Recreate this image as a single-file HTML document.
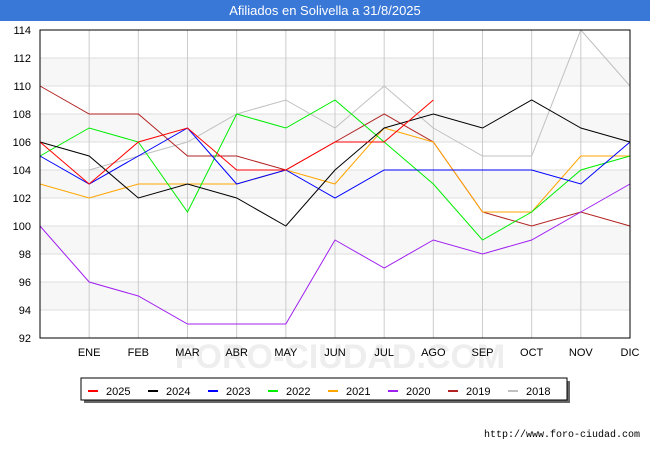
<!DOCTYPE html>
<html><head><meta charset="utf-8"><style>
body{margin:0;background:#fff;font-family:"Liberation Sans",sans-serif}
#t{position:absolute;left:0;top:0;width:650px;height:21px;background:#3a78d8;color:#fff;font-size:13px;text-align:center;line-height:21px}
</style></head><body>
<div id="t">Afiliados en Solivella a 31/8/2025</div>
<svg id="c" width="650" height="450" style="position:absolute;left:0;top:0"></svg>
<script>
const months=["","ENE","FEB","MAR","ABR","MAY","JUN","JUL","AGO","SEP","OCT","NOV","DIC"];
const yTicks=[92,94,96,98,100,102,104,106,108,110,112,114];
const years=["2025","2024","2023","2022","2021","2020","2019","2018"];
const colors=["#ff0000","#000000","#0000ff","#00ee00","#ffa500","#a020f0","#b22222","#c0c0c0"];
const s2025=[106,103,106,107,104,104,106,106,109];
const s2024=[106,105,102,103,102,100,104,107,108,107,109,107,106];
const s2023=[105,103,105,107,103,104,102,104,104,104,104,103,106];
const s2022=[105,107,106,101,108,107,109,106,103,99,101,104,105];
const s2021=[103,102,103,103,103,104,103,107,106,101,101,105,105];
const s2020=[100,96,95,93,93,93,99,97,99,98,99,101,103];
const s2019=[110,108,108,105,105,104,106,108,106,101,100,101,100];
const s2018=[null,104,105,106,108,109,107,110,107,105,105,114,110];
const series=[s2025,s2024,s2023,s2022,s2021,s2020,s2019,s2018];
const X0=40,X1=630,Y0=338,Y1=30;
const x=i=>X0+i*(X1-X0)/12;
const y=v=>Y0-(v-92)*(Y0-Y1)/22;
const svg=document.getElementById('c');const NS="http://www.w3.org/2000/svg";
function mk(t,a,txt){const e=document.createElementNS(NS,t);for(const k in a)e.setAttribute(k,a[k]);if(txt!=null)e.textContent=txt;svg.appendChild(e);return e;}
for(let i=0;i<yTicks.length-1;i++){if(i%2==1){const r=mk('rect',{x:X0,y:y(yTicks[i+1]),width:X1-X0,height:y(yTicks[i])-y(yTicks[i+1]),fill:'#f7f7f7'});

}}
mk('text',{x:340,y:368,'font-size':34,fill:'#eeeeee','text-anchor':'middle','font-weight':'bold'},'FORO-CIUDAD.COM');
yTicks.forEach(v=>{const l=mk('line',{x1:X0,x2:X1,y1:y(v),y2:y(v),stroke:'#dddddd'});


const t=mk('text',{x:31,y:y(v)+4,'font-size':11,'text-anchor':'end',fill:'#000'},v);

});
months.forEach((m,i)=>{if(i>0){const l=mk('line',{x1:x(i),x2:x(i),y1:Y1,y2:Y0,stroke:'#cccccc'});


const t=mk('text',{x:x(i),y:356,'font-size':11,'text-anchor':'middle',fill:'#000'},m);

}});
for(let k=series.length-1;k>=0;k--){const pts=series[k].map((v,i)=>v==null?null:x(i)+','+y(v)).filter(p=>p);
const p=mk('polyline',{points:pts.join(' '),fill:'none',stroke:colors[k],'stroke-width':1});

}
const f=mk('rect',{x:X0,y:Y1,width:X1-X0,height:Y0-Y1,fill:'none',stroke:'#000'});


mk('rect',{x:84,y:381,width:486,height:22,fill:'#666'});
const lg=mk('rect',{x:81,y:378,width:486,height:22,fill:'#fff',stroke:'#000'});


years.forEach((yr,k)=>{const lx=88+k*60;
const l=mk('line',{x1:lx,x2:lx+10,y1:391,y2:391,stroke:colors[k],'stroke-width':2});


const t=mk('text',{x:lx+18,y:395,'font-size':11,fill:'#000'},yr);

});
const u=mk('text',{x:640,y:437,'font-size':10,'text-anchor':'end',fill:'#000','font-family':'Liberation Mono, monospace'},'http://www.foro-ciudad.com');


</script>
</body></html>
